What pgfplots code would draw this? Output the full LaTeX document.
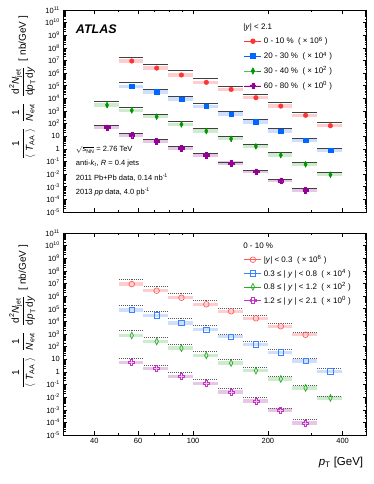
\documentclass[border=0pt]{standalone}
\usepackage{fontspec}
\setmainfont{Liberation Sans}
\usepackage{amsmath}
\usepackage{pgfplots}
\pgfplotsset{compat=1.18}
\usepackage{pgfplotstable}

\definecolor{cRed}{RGB}{255,51,51}
\definecolor{cBlue}{RGB}{0,102,255}
\definecolor{cGreen}{RGB}{0,150,0}
\definecolor{cPurple}{RGB}{150,0,150}
\definecolor{bRed}{RGB}{255,205,205}
\definecolor{bBlue}{RGB}{205,222,255}
\definecolor{bGreen}{RGB}{205,235,205}
\definecolor{bPurple}{RGB}{230,200,230}
\definecolor{oRed}{RGB}{255,90,90}
\definecolor{oBlue}{RGB}{60,130,255}
\definecolor{oGreen}{RGB}{40,170,40}
\definecolor{oPurple}{RGB}{200,50,200}

% greek cross, filled / open
\pgfdeclareplotmark{xcross}{%
  \pgfpathmoveto{\pgfqpoint{-0.35\pgfplotmarksize}{\pgfplotmarksize}}%
  \pgfpathlineto{\pgfqpoint{0.35\pgfplotmarksize}{\pgfplotmarksize}}%
  \pgfpathlineto{\pgfqpoint{0.35\pgfplotmarksize}{0.35\pgfplotmarksize}}%
  \pgfpathlineto{\pgfqpoint{\pgfplotmarksize}{0.35\pgfplotmarksize}}%
  \pgfpathlineto{\pgfqpoint{\pgfplotmarksize}{-0.35\pgfplotmarksize}}%
  \pgfpathlineto{\pgfqpoint{0.35\pgfplotmarksize}{-0.35\pgfplotmarksize}}%
  \pgfpathlineto{\pgfqpoint{0.35\pgfplotmarksize}{-\pgfplotmarksize}}%
  \pgfpathlineto{\pgfqpoint{-0.35\pgfplotmarksize}{-\pgfplotmarksize}}%
  \pgfpathlineto{\pgfqpoint{-0.35\pgfplotmarksize}{-0.35\pgfplotmarksize}}%
  \pgfpathlineto{\pgfqpoint{-\pgfplotmarksize}{-0.35\pgfplotmarksize}}%
  \pgfpathlineto{\pgfqpoint{-\pgfplotmarksize}{0.35\pgfplotmarksize}}%
  \pgfpathlineto{\pgfqpoint{-0.35\pgfplotmarksize}{0.35\pgfplotmarksize}}%
  \pgfpathclose
  \pgfusepathqfillstroke}
\pgfdeclareplotmark{ocross}{%
  \pgfpathmoveto{\pgfqpoint{-0.35\pgfplotmarksize}{\pgfplotmarksize}}%
  \pgfpathlineto{\pgfqpoint{0.35\pgfplotmarksize}{\pgfplotmarksize}}%
  \pgfpathlineto{\pgfqpoint{0.35\pgfplotmarksize}{0.35\pgfplotmarksize}}%
  \pgfpathlineto{\pgfqpoint{\pgfplotmarksize}{0.35\pgfplotmarksize}}%
  \pgfpathlineto{\pgfqpoint{\pgfplotmarksize}{-0.35\pgfplotmarksize}}%
  \pgfpathlineto{\pgfqpoint{0.35\pgfplotmarksize}{-0.35\pgfplotmarksize}}%
  \pgfpathlineto{\pgfqpoint{0.35\pgfplotmarksize}{-\pgfplotmarksize}}%
  \pgfpathlineto{\pgfqpoint{-0.35\pgfplotmarksize}{-\pgfplotmarksize}}%
  \pgfpathlineto{\pgfqpoint{-0.35\pgfplotmarksize}{-0.35\pgfplotmarksize}}%
  \pgfpathlineto{\pgfqpoint{-\pgfplotmarksize}{-0.35\pgfplotmarksize}}%
  \pgfpathlineto{\pgfqpoint{-\pgfplotmarksize}{0.35\pgfplotmarksize}}%
  \pgfpathlineto{\pgfqpoint{-0.35\pgfplotmarksize}{0.35\pgfplotmarksize}}%
  \pgfpathclose
  \pgfusepathqstroke}

% minor log ticks 2..9 in every decade
\def\minorlist{2e-5}
\foreach \e in {-5,...,10}{\foreach \m in {2,...,9}{\xdef\minorlist{\minorlist,\m e\e}}}

% columns: bin low, bin high, centre, value, reference
\pgfplotstableread{
lo hi x y ref
50.1 63.1 56.6 9.1e6 1.78e7
63.1 79.4 71.3 2.5e6 5.2e6
79.4 100 89.7 7.1e5 1.55e6
100 125.9 113.0 1.86e5 3.8e5
125.9 158.5 142.2 5.1e4 8.9e4
158.5 199.5 179.0 1.12e4 2.19e4
199.5 251.2 225.4 2.45e3 4.6e3
251.2 316.2 283.7 457 776
316.2 398.1 357.2 68 117
}\tRedA
\pgfplotstableread{
lo hi x y ref
50.1 63.1 56.6 8.9e4 1.86e5
63.1 79.4 71.3 3.2e4 5.5e4
79.4 100 89.7 8.9e3 1.45e4
100 125.9 113.0 2.34e3 4.1e3
125.9 158.5 142.2 575 933
158.5 199.5 179.0 135 219
199.5 251.2 225.4 25.7 44.7
251.2 316.2 283.7 5.0 7.2
316.2 398.1 357.2 0.81 1.17
}\tBlueA
\pgfplotstableread{
lo hi x y ref
39.8 50.1 45.0 2.95e3 5.4e3
50.1 63.1 56.6 1.12e3 1.95e3
63.1 79.4 71.3 355 550
79.4 100 89.7 87 151
100 125.9 113.0 25.7 42.7
125.9 158.5 142.2 6.3 10.5
158.5 199.5 179.0 1.58 2.29
199.5 251.2 225.4 0.32 0.50
251.2 316.2 283.7 0.060 0.091
316.2 398.1 357.2 8.9e-3 1.29e-2
}\tGreenA
\pgfplotstableread{
lo hi x y ref
39.8 50.1 45.0 47.9 67.6
50.1 63.1 56.6 12.6 17.8
63.1 79.4 71.3 3.98 5.37
79.4 100 89.7 1.10 1.70
100 125.9 113.0 0.309 0.447
125.9 158.5 142.2 0.0759 0.0912
158.5 199.5 179.0 0.0155 0.0200
199.5 251.2 225.4 3.0e-3 4.07e-3
251.2 316.2 283.7 5.5e-4 7.6e-4
}\tPurpleA
\pgfplotstableread{
lo hi x y ref
50.1 63.1 56.6 8.9e6 1.95e7
63.1 79.4 71.3 2.7e6 5.9e6
79.4 100 89.7 7.4e5 1.74e6
100 125.9 113.0 2.24e5 4.9e5
125.9 158.5 142.2 6.3e4 1.15e5
158.5 199.5 179.0 1.74e4 3.0e4
199.5 251.2 225.4 4.1e3 7.1e3
251.2 316.2 283.7 871 1.38e3
}\tRedB
\pgfplotstableread{
lo hi x y ref
50.1 63.1 56.6 7.9e4 2.0e5
63.1 79.4 71.3 2.9e4 5.9e4
79.4 100 89.7 7.6e3 1.86e4
100 125.9 113.0 2.24e3 4.7e3
125.9 158.5 142.2 603 1.02e3
158.5 199.5 179.0 148 257
199.5 251.2 225.4 34.7 60.3
251.2 316.2 283.7 7.2 12.3
316.2 398.1 357.2 1.10 2.0
}\tBlueB
\pgfplotstableread{
lo hi x y ref
50.1 63.1 56.6 759 1.78e3
63.1 79.4 71.3 257 562
79.4 100 89.7 75.9 155
100 125.9 113.0 20 38.9
125.9 158.5 142.2 5.0 9.8
158.5 199.5 179.0 1.26 2.29
199.5 251.2 225.4 0.275 0.468
251.2 316.2 283.7 0.0537 0.0912
316.2 398.1 357.2 8.7e-3 1.26e-2
}\tGreenB
\pgfplotstableread{
lo hi x y ref
50.1 63.1 56.6 5.6 12.3
63.1 79.4 71.3 1.82 3.47
79.4 100 89.7 0.427 0.912
100 125.9 113.0 0.117 0.245
125.9 158.5 142.2 0.0257 0.0479
158.5 199.5 179.0 5.0e-3 9.3e-3
199.5 251.2 225.4 9.3e-4 1.41e-3
251.2 316.2 283.7 8.9e-5 1.62e-4
}\tPurpleB

% bin-wide horizontal strokes: #1 table, #2 column, #3 style
\newcommand{\binlines}[3]{%
  \addplot[draw=none, mark=none, forget plot,
    error bars/.cd, x dir=both, x explicit, error mark=none,
    error bar style={#3}]
    table[x=x, y=#2, x error plus expr=\thisrow{hi}-\thisrow{x},
          x error minus expr=\thisrow{x}-\thisrow{lo}] {#1};}

\newcommand{\ylab}{$\dfrac{\text{1}}{\langle\;\textit{T}_{\text{AA}}\;\rangle}\;\;
  \dfrac{\text{1}}{\textit{N}_{\text{evt}}}\;\;
  \dfrac{\text{d}^{\text{2}}\textit{N}_{\text{jet}}}{\text{d}\textit{p}_{\text{T}}\,\text{d}\textit{y}}$\;\;[ nb/GeV ]}

\begin{document}
\begin{tikzpicture}
\useasboundingbox (0,0) rectangle (374pt,484pt);

% ---------- top panel: centrality ----------
\begin{axis}[at={(63.3pt,272pt)}, anchor=south west,
    width=303.4pt, height=202pt, scale only axis, clip=false,
    xmode=log, ymode=log, xmin=30, xmax=500, ymin=1e-5, ymax=1e11,
    axis line style={line width=0.8pt}, tick style={black, line width=0.5pt},
    major tick length=4pt, minor tick length=2.2pt,
    xtick={40,60,100,200,400}, minor xtick={50,70,80,90,300},
    xticklabels={},
    ytick={1e-5,1e-4,1e-3,1e-2,1e-1,1,10,100,1e3,1e4,1e5,1e6,1e7,1e8,1e9,1e10,1e11},
    minor ytick/.expand once=\minorlist,
    yticklabels={10\textsuperscript{-5},10\textsuperscript{-4},10\textsuperscript{-3},10\textsuperscript{-2},10\textsuperscript{-1},1,10,10\textsuperscript{2},10\textsuperscript{3},10\textsuperscript{4},10\textsuperscript{5},10\textsuperscript{6},10\textsuperscript{7},10\textsuperscript{8},10\textsuperscript{9},10\textsuperscript{10},10\textsuperscript{11}},
    tick label style={font=\fontsize{7.5}{8.5}\selectfont},
    legend cell align=left,
    legend style={draw=none, fill=none, font=\fontsize{8}{9.5}\selectfont,
      anchor=north west, row sep=2.4pt, at={(0.585,0.955)}}]
\binlines{\tRedA}{y}{draw=bRed, line width=3.4pt}
\binlines{\tBlueA}{y}{draw=bBlue, line width=3.4pt}
\binlines{\tGreenA}{y}{draw=bGreen, line width=3.4pt}
\binlines{\tPurpleA}{y}{draw=bPurple, line width=3.4pt}
\binlines{\tRedA}{ref}{draw=black!75, line width=0.8pt}
\binlines{\tBlueA}{ref}{draw=black!75, line width=0.8pt}
\binlines{\tGreenA}{ref}{draw=black!75, line width=0.8pt}
\binlines{\tPurpleA}{ref}{draw=black!75, line width=0.8pt}
\addplot[only marks, mark=*, color=cRed, mark size=2.3pt, forget plot] table[x=x, y=y] {\tRedA};
\addplot[only marks, mark=square*, color=cBlue, mark size=2.3pt, forget plot] table[x=x, y=y] {\tBlueA};
\addplot[only marks, mark=diamond*, color=cGreen, mark size=2.2pt, mark options={yscale=1.35}, forget plot,
    error bars/.cd, y dir=both, y explicit relative, error mark=none, error bar style={line width=0.9pt}]
    table[x=x, y=y, y error expr=0.4] {\tGreenA};
\addplot[only marks, mark=xcross, color=cPurple, fill=cPurple, mark size=2.8pt, forget plot,
    error bars/.cd, y dir=both, y explicit relative, error mark=none, error bar style={line width=0.9pt}]
    table[x=x, y=y, y error expr=0.35] {\tPurpleA};

\addlegendimage{empty legend}
\addlegendentry{\hspace{-0.72cm}|\textit{y}| < 2.1}
\addlegendimage{cRed, mark=*, mark size=2.3pt, line width=0.8pt}
\addlegendentry{0 - 10 \%\ \ ( × 10\textsuperscript{6} )}
\addlegendimage{cBlue, mark=square*, mark size=2.3pt, line width=0.8pt}
\addlegendentry{20 - 30 \%\ \ ( × 10\textsuperscript{4} )}
\addlegendimage{cGreen, mark=diamond*, mark size=2.2pt, mark options={yscale=1.35}, line width=0.8pt}
\addlegendentry{30 - 40 \%\ \ ( × 10\textsuperscript{2} )}
\addlegendimage{cPurple, fill=cPurple, mark=xcross, mark size=2.8pt, line width=0.8pt}
\addlegendentry{60 - 80 \%\ \ ( × 10\textsuperscript{0} )}

\node[anchor=west, font=\fontsize{12.5}{14}\selectfont\bfseries\itshape]
  at (axis description cs:0.03,0.907) {ATLAS};
\node[anchor=west, font=\fontsize{7.5}{8.5}\selectfont] at (axis description cs:0.03,0.307) {$\sqrt{\textit{s}_{\text{NN}}}$ = 2.76 TeV};
\node[anchor=west, font=\fontsize{7.5}{8.5}\selectfont] at (axis description cs:0.03,0.241) {anti-\textit{k}\textsubscript{\textit{t}}, \textit{R} = 0.4 jets};
\node[anchor=west, font=\fontsize{7.5}{8.5}\selectfont] at (axis description cs:0.03,0.172) {2011 Pb+Pb data, 0.14 nb\textsuperscript{-1}};
\node[anchor=west, font=\fontsize{7.5}{8.5}\selectfont] at (axis description cs:0.03,0.100) {2013 \textit{pp} data, 4.0 pb\textsuperscript{-1}};
\node[rotate=90, font=\fontsize{10}{12}\selectfont] at (axis description cs:-0.135,0.615) {\ylab};
\end{axis}

% ---------- bottom panel: rapidity ----------
\begin{axis}[at={(63.3pt,49pt)}, anchor=south west,
    width=303.4pt, height=202pt, scale only axis, clip=false,
    xmode=log, ymode=log, xmin=30, xmax=500, ymin=1e-5, ymax=1e11,
    axis line style={line width=0.8pt}, tick style={black, line width=0.5pt},
    major tick length=4pt, minor tick length=2.2pt,
    xtick={40,60,100,200,400}, minor xtick={50,70,80,90,300},
    xticklabels={40,60,100,200,400},
    ytick={1e-5,1e-4,1e-3,1e-2,1e-1,1,10,100,1e3,1e4,1e5,1e6,1e7,1e8,1e9,1e10,1e11},
    minor ytick/.expand once=\minorlist,
    yticklabels={10\textsuperscript{-5},10\textsuperscript{-4},10\textsuperscript{-3},10\textsuperscript{-2},10\textsuperscript{-1},1,10,10\textsuperscript{2},10\textsuperscript{3},10\textsuperscript{4},10\textsuperscript{5},10\textsuperscript{6},10\textsuperscript{7},10\textsuperscript{8},10\textsuperscript{9},10\textsuperscript{10},10\textsuperscript{11}},
    tick label style={font=\fontsize{7.5}{8.5}\selectfont},
    xlabel={\textit{p}\textsubscript{T} [GeV]},
    xlabel style={font=\fontsize{11.5}{13}\selectfont, at={(axis description cs:1,0)},
      anchor=north east, yshift=-19pt},
    legend cell align=left,
    legend style={draw=none, fill=none, font=\fontsize{8}{9.5}\selectfont,
      anchor=north west, row sep=1.1pt, at={(0.585,0.97)}}]
\binlines{\tRedB}{y}{draw=bRed, line width=3.4pt}
\binlines{\tBlueB}{y}{draw=bBlue, line width=3.4pt}
\binlines{\tGreenB}{y}{draw=bGreen, line width=3.4pt}
\binlines{\tPurpleB}{y}{draw=bPurple, line width=3.4pt}
\binlines{\tRedB}{ref}{draw=black!65, line width=0.7pt, dash pattern=on 1pt off 1pt}
\binlines{\tBlueB}{ref}{draw=black!65, line width=0.7pt, dash pattern=on 1pt off 1pt}
\binlines{\tGreenB}{ref}{draw=black!65, line width=0.7pt, dash pattern=on 1pt off 1pt}
\binlines{\tPurpleB}{ref}{draw=black!65, line width=0.7pt, dash pattern=on 1pt off 1pt}
\addplot[only marks, mark=o, color=oRed, mark size=2.8pt, line width=0.7pt, forget plot] table[x=x, y=y] {\tRedB};
\addplot[only marks, mark=square, color=oBlue, mark size=2.7pt, line width=0.7pt, forget plot] table[x=x, y=y] {\tBlueB};
\addplot[only marks, mark=diamond, color=oGreen, mark size=2.3pt, mark options={yscale=1.45}, line width=0.7pt, forget plot] table[x=x, y=y] {\tGreenB};
\addplot[only marks, mark=ocross, color=oPurple, mark size=3pt, line width=0.7pt, forget plot] table[x=x, y=y] {\tPurpleB};

\addlegendimage{empty legend}
\addlegendentry{\hspace{-0.72cm}0 - 10 \%}
\addlegendimage{oRed, mark=o, mark size=2.8pt, line width=0.7pt}
\addlegendentry{|\textit{y}| < 0.3\ \ ( × 10\textsuperscript{6} )}
\addlegendimage{oBlue, mark=square, mark size=2.7pt, line width=0.7pt}
\addlegendentry{0.3 ≤ | \textit{y} | < 0.8\ \ ( × 10\textsuperscript{4} )}
\addlegendimage{oGreen, mark=diamond, mark size=2.3pt, mark options={yscale=1.45}, line width=0.7pt}
\addlegendentry{0.8 ≤ | \textit{y} | < 1.2\ \ ( × 10\textsuperscript{2} )}
\addlegendimage{oPurple, mark=ocross, mark size=3pt, line width=0.7pt}
\addlegendentry{1.2 ≤ | \textit{y} | < 2.1\ \ ( × 10\textsuperscript{0} )}

\node[rotate=90, font=\fontsize{10}{12}\selectfont] at (axis description cs:-0.135,0.585) {\ylab};
\end{axis}
\end{tikzpicture}
\end{document}
